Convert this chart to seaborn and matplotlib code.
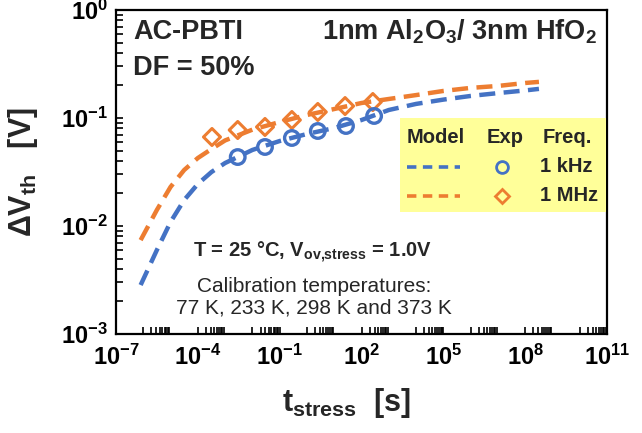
import numpy as np
import pandas as pd
import matplotlib
matplotlib.use("Agg")
import matplotlib.pyplot as plt
import seaborn as sns
from matplotlib.ticker import FixedLocator, FuncFormatter, LogLocator, NullFormatter
from matplotlib.patches import Rectangle
from matplotlib.lines import Line2D

# ---------------- data ----------------
t_model = [8e-7, 3.16e-6, 1e-5, 3.16e-5, 1e-4, 3.16e-4, 1e-3, 1e-2, 1e-1, 1, 10, 100,
           1e3, 1e4, 1e5, 1e6, 1e7, 1e8, 3.2e8]
model_1khz = [0.00284, 0.0060, 0.0109, 0.0174, 0.0245, 0.0316, 0.0383, 0.0506, 0.0612, 0.0711,
              0.0808, 0.0958, 0.1186, 0.135, 0.148, 0.160, 0.170, 0.180, 0.186]
model_1mhz = [0.0074, 0.0141, 0.0230, 0.0330, 0.0426, 0.0516, 0.0620, 0.0780, 0.0918, 0.1066,
              0.1211, 0.1377, 0.150, 0.163, 0.178, 0.190, 0.198, 0.211, 0.216]

t_exp_1khz = [2.9e-3, 2.9e-2, 0.28, 2.5, 27, 290]
exp_1khz = [0.0435, 0.0539, 0.0653, 0.0758, 0.0843, 0.1044]
t_exp_1mhz = [3.3e-4, 2.9e-3, 2.9e-2, 0.28, 2.5, 25, 260]
exp_1mhz = [0.0667, 0.0774, 0.0826, 0.0958, 0.1137, 0.129, 0.1406]

x_tick_exps = [-7, -4, -1, 2, 5, 8, 11]
y_tick_exps = [-3, -2, -1, 0]

BLUE = "#4472C4"
ORANGE = "#ED7D31"

# ---------------- style ----------------
sns.set_style("white")
plt.rcParams["font.family"] = ["Liberation Sans", "DejaVu Sans"]
plt.rcParams["mathtext.fontset"] = "custom"
plt.rcParams["mathtext.rm"] = "Liberation Sans"
plt.rcParams["mathtext.bf"] = "Liberation Sans:bold"
plt.rcParams["mathtext.it"] = "Liberation Sans:italic"
plt.rcParams["mathtext.default"] = "bf"

fig = plt.figure(figsize=(6.42, 4.33), dpi=100)
W, H = 642, 433
ax = fig.add_axes([116 / W, 1 - 334 / H, (607 - 116) / W, (334 - 10) / H])

df_m1 = pd.DataFrame({"t": t_model, "v": model_1khz})
df_m2 = pd.DataFrame({"t": t_model, "v": model_1mhz})
df_e1 = pd.DataFrame({"t": t_exp_1khz, "v": exp_1khz})
df_e2 = pd.DataFrame({"t": t_exp_1mhz, "v": exp_1mhz})

dash = (0, (3.6, 1.9))
sns.lineplot(data=df_m2, x="t", y="v", ax=ax, color=ORANGE, lw=3.2, linestyle=dash, sort=True)
sns.lineplot(data=df_m1, x="t", y="v", ax=ax, color=BLUE, lw=3.2, linestyle=dash, sort=True)
sns.scatterplot(data=df_e2, x="t", y="v", ax=ax, marker="D", s=75, facecolor="none",
                edgecolor=ORANGE, linewidth=2.2, zorder=5)
sns.scatterplot(data=df_e1, x="t", y="v", ax=ax, marker="o", s=110, facecolor="none",
                edgecolor=BLUE, linewidth=2.4, zorder=5)

ax.set_xscale("log")
ax.set_yscale("log")
ax.set_xlim(1e-7, 1e11)
ax.set_ylim(1e-3, 1e0)

ax.xaxis.set_major_locator(FixedLocator([10.0 ** e for e in x_tick_exps]))
minor_x = [k * 10.0 ** e for e in range(-6, 11, 2) for k in range(1, 10)]
ax.xaxis.set_minor_locator(FixedLocator(minor_x))
ax.xaxis.set_minor_formatter(NullFormatter())
ax.yaxis.set_major_locator(FixedLocator([10.0 ** e for e in y_tick_exps]))
ax.yaxis.set_minor_locator(LogLocator(base=10, subs=np.arange(2, 10)))
ax.yaxis.set_minor_formatter(NullFormatter())

fmt = FuncFormatter(lambda v, p: r"$10^{%d}$" % int(round(np.log10(v))))
ax.xaxis.set_major_formatter(fmt)
ax.yaxis.set_major_formatter(fmt)

ax.tick_params(axis="both", which="both", direction="in", width=1.2, colors="black",
               labelsize=17, bottom=True, left=True, top=False, right=False)
ax.tick_params(axis="both", which="major", length=5)
ax.tick_params(axis="both", which="minor", length=5)
ax.tick_params(axis="x", which="major", pad=8)
ax.tick_params(axis="y", which="major", pad=6)

for s in ax.spines.values():
    s.set_color("black")
    s.set_linewidth(1.6)

ax.set_xlabel("t$_{stress}$  [s]", fontsize=22, fontweight="bold", labelpad=11)
ax.xaxis.set_label_coords((346 - 116) / 491, -0.16)
ax.set_ylabel("ΔV$_{th}$   [V]", fontsize=22, fontweight="bold", labelpad=15)

# ---------------- annotations ----------------
def ftxt(x, y, s, **kw):
    fig.text(x / W, 1 - y / H, s, **kw)

ftxt(133, 39, "AC-PBTI", fontsize=19.5, fontweight="bold", ha="left", va="baseline")
ftxt(597, 39, "1nm Al$_2$O$_3$/ 3nm HfO$_2$", fontsize=19.5, fontweight="bold",
     ha="right", va="baseline")
ftxt(133, 75, "DF = 50%", fontsize=19.5, fontweight="bold", ha="left", va="baseline")
ftxt(313, 257, "T = 25 °C, V$_{ov{,}stress}$ = 1.0V", fontsize=14.5, fontweight="bold",
     ha="center", va="baseline")
ftxt(314, 292, "Calibration temperatures:", fontsize=15, ha="center", va="baseline")
ftxt(314, 314, "77 K, 233 K, 298 K and 373 K", fontsize=15, ha="center", va="baseline")

# ---------------- custom legend box ----------------
tr = fig.transFigure
fig.patches.append(Rectangle((400 / W, 1 - 212 / H), (606 - 400) / W, (212 - 118) / H,
                             transform=tr, facecolor="#FFFF99", edgecolor="none", zorder=3))
lf = 14.5
ftxt(407, 143, "Model", fontsize=lf, fontweight="bold", ha="left", va="baseline", zorder=4)
ftxt(505, 143, "Exp", fontsize=lf, fontweight="bold", ha="center", va="baseline", zorder=4)
ftxt(543, 143, "Freq.", fontsize=lf, fontweight="bold", ha="left", va="baseline", zorder=4)
ftxt(540, 172, "1 kHz", fontsize=lf, fontweight="bold", ha="left", va="baseline", zorder=4)
ftxt(540, 201, "1 MHz", fontsize=lf, fontweight="bold", ha="left", va="baseline", zorder=4)

for yy, col, mk, ms in [(167, BLUE, "o", 8.5), (196, ORANGE, "D", 7.5)]:
    fig.lines.append(Line2D([407 / W, 460 / W], [1 - yy / H, 1 - yy / H], transform=tr,
                            color=col, lw=2.6, linestyle=(0, (2.6, 1.8)), zorder=4))
    fig.lines.append(Line2D([502 / W], [1 - yy / H], transform=tr, marker=mk, ms=ms,
                            mfc="none", mec=col, mew=2.0, linestyle="none", zorder=4))

fig.savefig("out.png", dpi=100)
